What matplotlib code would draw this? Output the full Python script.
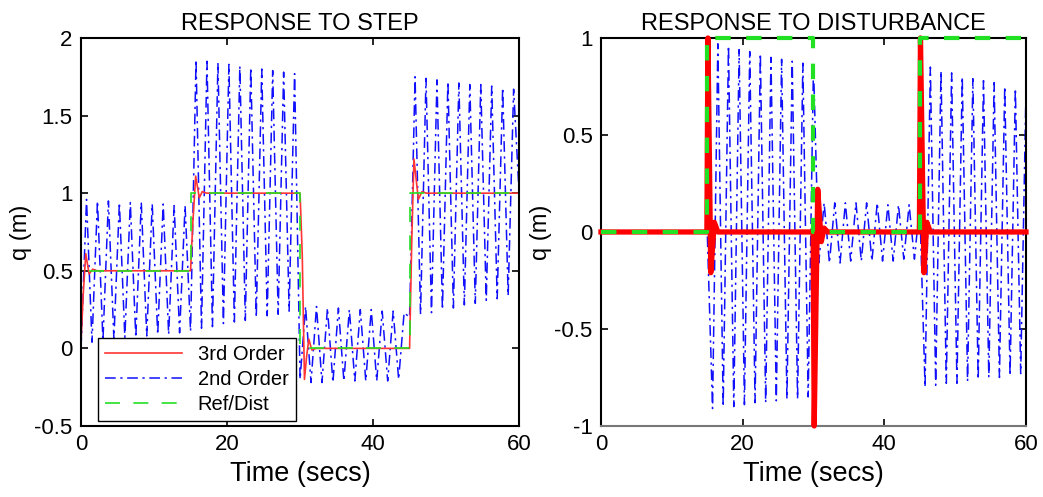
import numpy as np
import matplotlib
matplotlib.use('Agg')
import matplotlib.pyplot as plt

plt.rcParams['font.family'] = ['Liberation Sans', 'DejaVu Sans']

# ---- left panel : response to step ----
step_ref_t = [0, 0, 15, 15, 30, 30, 45, 45, 60]
step_ref_v = [0, 0.5, 0.5, 1, 1, 0, 0, 1, 1]

step_3rd_t = [0, 0.3, 0.65, 1.1, 1.6, 2.2, 15.0, 15.3, 15.7, 16.2, 16.6, 17.2,
              30.0, 30.3, 30.6, 30.9, 31.2, 31.6, 32.2, 45.0, 45.3, 45.6, 46.2, 46.7, 47.3, 60]
step_3rd_v = [0.04, 0.35, 0.61, 0.48, 0.51, 0.5, 0.5, 0.8, 1.11, 0.97, 1.01, 1.0,
              1.0, 0.6, -0.2, -0.05, 0.06, -0.01, 0.0, 0.0, 0.7, 1.22, 0.96, 1.01, 1.0, 1.0]

# 2nd order: troughs at 0, 1.5, ... and peaks at 0.75, 2.25, ...
step_2nd_trough_t = np.arange(0, 59, 1.5)
step_2nd_trough_v = [0.00, 0.04, 0.05, 0.06, 0.07, 0.07, 0.08, 0.09, 0.09, 0.10,
                     0.11, 0.13, 0.14, 0.16, 0.17, 0.18, 0.20, 0.21, 0.22, 0.24,
                     -0.20, -0.22, -0.22, -0.22, -0.21, -0.21, -0.21, -0.21, -0.21, -0.20,
                     0.20, 0.22, 0.23, 0.25, 0.26, 0.28, 0.29, 0.31, 0.32, 0.34]
step_2nd_peak_t = np.arange(0.75, 60, 1.5)
step_2nd_peak_v = [0.96, 0.95, 0.95, 0.94, 0.94, 0.94, 0.93, 0.93, 0.92, 0.92,
                   1.86, 1.85, 1.84, 1.83, 1.82, 1.81, 1.80, 1.79, 1.78, 1.77,
                   0.27, 0.27, 0.26, 0.26, 0.25, 0.25, 0.25, 0.24, 0.24, 0.23,
                   1.75, 1.74, 1.73, 1.72, 1.71, 1.70, 1.70, 1.69, 1.68, 1.67]
step_2nd_end = (60, 1.0)

# ---- right panel : response to disturbance ----
dist_ref_t = [0, 15, 15, 30, 30, 45, 45, 60]
dist_ref_v = [0, 0, 1, 1, 0, 0, 1, 1]

dist_3rd_t = [0, 14.95, 15.1, 15.5, 16.0, 16.5, 29.95, 30.1, 30.6, 31.1, 31.5, 32.0,
              44.95, 45.1, 45.6, 46.0, 46.5, 60]
dist_3rd_v = [0, 0, 1.0, -0.21, 0.05, 0, 0, -1.0, 0.22, -0.05, 0.02, 0,
              0, 1.0, -0.21, 0.05, 0, 0]

dist_2nd_start_t = [0, 15]
dist_2nd_start_v = [0, 0]
dist_2nd_trough_t = np.arange(15.75, 60, 1.5)
dist_2nd_trough_v = [-0.91, -0.90, -0.90, -0.89, -0.88, -0.88, -0.87, -0.86, -0.86, -0.85,
                     -0.16, -0.16, -0.16, -0.15, -0.15, -0.15, -0.15, -0.15, -0.14, -0.14,
                     -0.80, -0.79, -0.78, -0.78, -0.77, -0.76, -0.75, -0.75, -0.74, -0.73]
dist_2nd_peak_t = np.arange(16.5, 60.1, 1.5)
dist_2nd_peak_v = [0.97, 0.96, 0.94, 0.93, 0.92, 0.90, 0.89, 0.88, 0.87, 0.86,
                   0.15, 0.15, 0.15, 0.15, 0.15, 0.15, 0.14, 0.14, 0.14, 0.14,
                   0.85, 0.83, 0.82, 0.80, 0.79, 0.78, 0.77, 0.75, 0.74, 0.73]


def zigzag(t1, v1, t2, v2):
    # merge the two point lists in time order
    t = np.concatenate([t1, t2])
    v = np.concatenate([v1, v2])
    idx = np.argsort(t, kind='stable')
    return t[idx], v[idx]


def style_axes(ax, title, yticks, ylim):
    ax.set_xlim(0, 60)
    ax.set_ylim(*ylim)
    ax.set_xticks([0, 20, 40, 60])
    ax.set_yticks(yticks)
    ax.set_yticklabels(['%g' % y for y in yticks])
    ax.tick_params(direction='in', top=True, right=True, length=5, width=1.2,
                   labelsize=16, pad=6)
    for s in ax.spines.values():
        s.set_linewidth(1.5)
    ax.set_title(title, fontsize=17, pad=6)
    ax.set_xlabel('Time (secs)', fontsize=19.5, labelpad=4)
    ax.set_ylabel('q (m)', fontsize=17, labelpad=2)


fig = plt.figure(figsize=(10.43, 4.97), dpi=100)
ax1 = fig.add_axes([0.0777, 0.1429, 0.42, 0.7807])
ax2 = fig.add_axes([0.5762, 0.1429, 0.4075, 0.7807])

blue_style = dict(color='#1010ff', lw=1.1, linestyle=(0, (7, 3, 1.5, 3)))

# left
bt, bv = zigzag(step_2nd_trough_t, step_2nd_trough_v, step_2nd_peak_t, step_2nd_peak_v)
bt = np.append(bt, step_2nd_end[0])
bv = np.append(bv, step_2nd_end[1])
l2, = ax1.plot(bt, bv, label='2nd Order', **blue_style)
l3, = ax1.plot(step_3rd_t, step_3rd_v, color='#ff3535', lw=1.2, label='3rd Order')
lr, = ax1.plot(step_ref_t, step_ref_v, color='#22e022', lw=1.2,
               linestyle=(0, (9, 8)), label='Ref/Dist')
leg = ax1.legend(handles=[l3, l2, lr], loc='lower left',
                 bbox_to_anchor=(17 / 438, 5 / 388), borderaxespad=0,
                 fontsize=14.5, handlelength=3.8, fancybox=False, framealpha=1,
                 edgecolor='black', borderpad=0.35, labelspacing=0.3)
leg.get_frame().set_linewidth(1.0)
style_axes(ax1, 'RESPONSE TO STEP', [-0.5, 0, 0.5, 1, 1.5, 2], (-0.5, 2))

# right
bt, bv = zigzag(dist_2nd_trough_t, dist_2nd_trough_v, dist_2nd_peak_t, dist_2nd_peak_v)
bt = np.concatenate([dist_2nd_start_t, bt])
bv = np.concatenate([dist_2nd_start_v, bv])
ax2.plot(bt, bv, **blue_style)
ax2.plot(dist_3rd_t, dist_3rd_v, color='#ff0000', lw=3.8, solid_joinstyle='round',
         clip_on=False, zorder=3)
ax2.plot(dist_ref_t, dist_ref_v, color='#22e022', lw=3.0, linestyle=(0, (3.7, 3.7)),
         clip_on=False, zorder=4)
style_axes(ax2, 'RESPONSE TO DISTURBANCE', [-1, -0.5, 0, 0.5, 1], (-1, 1))
ax2.spines['bottom'].set_color('#777777')

fig.savefig('out.png', dpi=100)
